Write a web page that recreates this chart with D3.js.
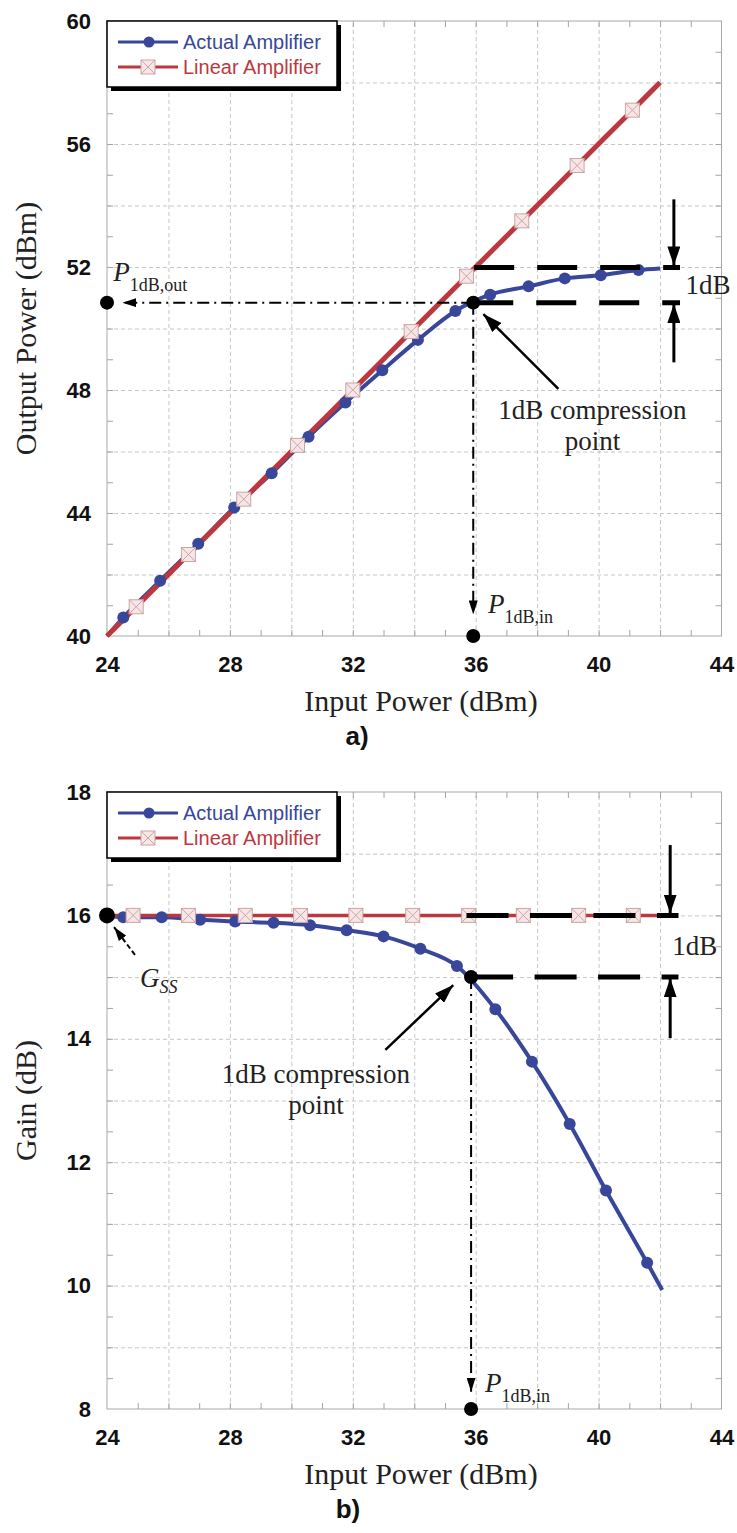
<!DOCTYPE html>
<html>
  <head>
    <meta charset="utf-8">
    <title>1dB compression point</title>
    <script src="https://cdn.jsdelivr.net/npm/d3@7"></script>
    <style>

body {
  margin: 0;
  background: #fff;
}

.tick text {
  font: bold 22px "Liberation Sans", Arial, sans-serif;
  fill: #111;
}

.grid line {
  stroke: #c6c6c6;
  stroke-dasharray: 4,3;
}

.minor line {
  stroke: #a4a4a4;
}

.frame {
  fill: none;
  stroke: #a8a8a8;
}

.title {
  font: 30px "Liberation Serif", "DejaVu Serif", serif;
  fill: #222;
}

.note {
  font: 27px "Liberation Serif", "DejaVu Serif", serif;
  fill: #222;
}

.panel {
  font: bold 26px "Liberation Sans", Arial, sans-serif;
  fill: #111;
}

.legend text {
  font: 20px "Liberation Sans", Arial, sans-serif;
}

    </style>
  </head>
  <body>
    <script>

// axes
var xLabels = [24, 28, 32, 36, 40, 44],
    xGrid = [26, 28, 30, 32, 34, 36, 38, 40, 42],
    yLabelsA = [40, 44, 48, 52, 56, 60],
    yGridA = [42, 44, 46, 48, 50, 52, 54, 56, 58],
    yLabelsB = [8, 10, 12, 14, 16, 18],
    yGridB = [9, 10, 11, 12, 13, 14, 15, 16, 17];

// a) output power vs input power (first and last point have no marker)
var actualInA  = [24, 24.53, 25.73, 26.97, 28.14, 29.36, 30.56, 31.76, 32.96, 34.12, 35.34, 36.47, 37.72, 38.9, 40.07, 41.3, 42.0],
    actualOutA = [40, 40.6, 41.8, 43.0, 44.18, 45.29, 46.48, 47.59, 48.64, 49.63, 50.57, 51.1, 51.37, 51.63, 51.73, 51.9, 51.95],
    linearInA  = [24, 24.95, 26.65, 28.45, 30.2, 32.0, 33.9, 35.7, 37.5, 39.3, 41.1, 42],
    linearOutA = [40, 40.95, 42.65, 44.45, 46.2, 48.0, 49.9, 51.7, 53.5, 55.3, 57.1, 58];

// b) gain vs input power
var actualInB   = [24, 24.53, 25.78, 27.03, 28.17, 29.42, 30.61, 31.8, 33.0, 34.2, 35.39, 36.64, 37.83, 39.06, 40.24, 41.58, 42.07],
    actualGainB = [16.0, 15.97, 15.97, 15.93, 15.9, 15.88, 15.84, 15.76, 15.66, 15.46, 15.18, 14.48, 13.63, 12.62, 11.54, 10.37, 9.93],
    linearInB   = [24, 24.85, 26.65, 28.5, 30.3, 32.1, 33.95, 35.77, 37.55, 39.35, 41.13, 42],
    linearGainB = [16, 16, 16, 16, 16, 16, 16, 16, 16, 16, 16, 16];

var BLUE = "#38479a",
    RED = "#bc383e";

var svg = d3.select("body").append("svg")
    .attr("width", 737)
    .attr("height", 1533);

var defs = svg.append("defs");

function arrowHead(id, len, wid) {
  defs.append("marker")
      .attr("id", id)
      .attr("viewBox", "0 -5 10 10")
      .attr("refX", 10)
      .attr("refY", 0)
      .attr("markerUnits", "userSpaceOnUse")
      .attr("markerWidth", len)
      .attr("markerHeight", wid)
      .attr("preserveAspectRatio", "none")
      .attr("orient", "auto")
    .append("path")
      .attr("d", "M0,-5L10,0L0,5Z")
      .attr("fill", "#000");
}
arrowHead("big", 19, 13);
arrowHead("small", 14, 9);

function noDomain(s) { s.select(".domain").remove(); }

function drawPanel(p) {
  var x = d3.scaleLinear().domain([24, 44]).range([107, 721.5]),
      y = d3.scaleLinear().domain(p.yDomain).range([p.bottom, p.top]),
      w = x.range()[1] - x.range()[0],
      h = p.bottom - p.top,
      g = svg.append("g");

  g.append("g")
      .attr("class", "grid")
      .attr("transform", "translate(0," + p.bottom + ")")
      .call(d3.axisBottom(x).tickValues(xGrid).tickSize(-h).tickFormat(""))
      .call(noDomain);

  g.append("g")
      .attr("class", "grid")
      .attr("transform", "translate(" + x(24) + ",0)")
      .call(d3.axisLeft(y).tickValues(p.yGrid).tickSize(-w).tickFormat(""))
      .call(noDomain);

  // small inward ticks on all four sides
  var xMinor = d3.range(25, 44, 1);
  g.append("g").attr("class", "minor")
      .attr("transform", "translate(0," + p.bottom + ")")
      .call(d3.axisBottom(x).tickValues(xMinor).tickSize(-6).tickFormat(""))
      .call(noDomain);
  g.append("g").attr("class", "minor")
      .attr("transform", "translate(0," + p.top + ")")
      .call(d3.axisTop(x).tickValues(xMinor).tickSize(-6).tickFormat(""))
      .call(noDomain);
  g.append("g").attr("class", "minor")
      .attr("transform", "translate(" + x(24) + ",0)")
      .call(d3.axisLeft(y).tickValues(p.yMinor).tickSize(-6).tickFormat(""))
      .call(noDomain);
  g.append("g").attr("class", "minor")
      .attr("transform", "translate(" + x(44) + ",0)")
      .call(d3.axisRight(y).tickValues(p.yMinor).tickSize(-6).tickFormat(""))
      .call(noDomain);

  g.append("rect")
      .attr("class", "frame")
      .attr("x", x(24))
      .attr("y", p.top)
      .attr("width", w)
      .attr("height", h);

  g.append("g")
      .attr("transform", "translate(0," + p.bottom + ")")
      .call(d3.axisBottom(x).tickValues(xLabels).tickSize(0).tickPadding(20))
      .call(noDomain);

  g.append("g")
      .attr("transform", "translate(" + x(24) + ",0)")
      .call(d3.axisLeft(y).tickValues(p.yLabels).tickSize(0).tickPadding(16))
      .call(noDomain);

  // series
  var line = d3.line()
      .x(function(d) { return x(d[0]); })
      .y(function(d) { return y(d[1]); })
      .curve(d3.curveMonotoneX);

  var actual = d3.zip(p.actualIn, p.actualOut),
      linear = d3.zip(p.linearIn, p.linearOut);

  g.append("path")
      .datum(actual)
      .attr("d", line)
      .attr("fill", "none")
      .attr("stroke", BLUE)
      .attr("stroke-width", 4);

  g.append("path")
      .datum(linear)
      .attr("d", line)
      .attr("fill", "none")
      .attr("stroke", RED)
      .attr("stroke-width", p.redWidth);

  g.selectAll("circle.actual")
      .data(actual.slice(1, -1))
    .enter().append("circle")
      .attr("class", "actual")
      .attr("cx", function(d) { return x(d[0]); })
      .attr("cy", function(d) { return y(d[1]); })
      .attr("r", 6)
      .attr("fill", BLUE);

  linearMarks(g.selectAll("g.linear")
      .data(linear.slice(1, -1))
    .enter().append("g")
      .attr("class", "linear")
      .attr("transform", function(d) { return "translate(" + x(d[0]) + "," + y(d[1]) + ")"; }));

  g.append("text")
      .attr("class", "title")
      .attr("x", 421)
      .attr("y", p.bottom + 75)
      .attr("text-anchor", "middle")
      .text("Input Power (dBm)");

  g.append("text")
      .attr("class", "title")
      .attr("transform", "translate(36," + (p.top + p.bottom) / 2 + ")rotate(-90)")
      .attr("text-anchor", "middle")
      .text(p.yTitle);

  g.append("text")
      .attr("class", "panel")
      .attr("x", p.panelX)
      .attr("y", p.bottom + 109)
      .attr("text-anchor", "middle")
      .text(p.panel);

  legend(p.top);

  return {g: g, x: x, y: y};
}

function linearMarks(sel) {
  sel.append("rect")
      .attr("x", -7)
      .attr("y", -7)
      .attr("width", 14)
      .attr("height", 14)
      .attr("fill", "#f8e6e6")
      .attr("stroke", "#c9a6a6");
  sel.append("path")
      .attr("d", "M-7,-7L7,7M7,-7L-7,7")
      .attr("stroke", "#c9a6a6");
}

function legend(top) {
  var lg = svg.append("g")
      .attr("class", "legend")
      .attr("transform", "translate(107," + top + ")");
  lg.append("rect")
      .attr("x", 4).attr("y", 4)
      .attr("width", 230).attr("height", 66)
      .attr("fill", "#000");
  lg.append("rect")
      .attr("width", 230).attr("height", 66)
      .attr("fill", "#fff")
      .attr("stroke", "#000")
      .attr("stroke-width", 1.5);

  var rows = [{name: "Actual Amplifier", color: BLUE, dy: 21},
              {name: "Linear Amplifier", color: RED, dy: 46}];
  var row = lg.selectAll("g.row")
      .data(rows)
    .enter().append("g")
      .attr("transform", function(d) { return "translate(0," + d.dy + ")"; });
  row.append("line")
      .attr("x1", 11).attr("x2", 71)
      .attr("stroke", function(d) { return d.color; })
      .attr("stroke-width", 3);
  row.append("text")
      .attr("x", 76)
      .attr("dy", "0.36em")
      .attr("fill", function(d) { return d.color; })
      .text(function(d) { return d.name; });
  row.filter(function(d, i) { return i == 0; }).append("circle")
      .attr("cx", 42).attr("r", 5.5).attr("fill", BLUE);
  linearMarks(row.filter(function(d, i) { return i == 1; }).append("g")
      .attr("transform", "translate(41,0)"));
}

// annotation helpers, points are in data units of the panel
function path(P, pts) {
  return P.g.append("path")
      .attr("d", d3.line().x(function(d) { return P.x(d[0]); }).y(function(d) { return P.y(d[1]); })(pts))
      .attr("fill", "none")
      .attr("stroke", "#000");
}

function dot(P, pt, r) {
  P.g.append("circle")
      .attr("cx", P.x(pt[0]))
      .attr("cy", P.y(pt[1]))
      .attr("r", r)
      .attr("fill", "#000");
}

function label(P, pt, main, sub, subItalic) {
  var t = P.g.append("text")
      .attr("class", "note")
      .attr("x", P.x(pt[0]))
      .attr("y", P.y(pt[1]))
      .style("font-style", "italic")
      .text(main);
  t.append("tspan")
      .attr("dy", subItalic ? 6 : 10)
      .style("font-style", subItalic ? "italic" : "normal")
      .style("font-size", "18px")
      .text(sub);
}

function note(P, pt, lines) {
  P.g.append("text")
      .attr("class", "note")
      .attr("text-anchor", "middle")
      .selectAll("tspan")
      .data(lines)
    .enter().append("tspan")
      .attr("x", P.x(pt[0]))
      .attr("y", function(d, i) { return P.y(pt[1]) + i * 31; })
      .text(function(d) { return d; });
}

// ---- a) output power
var A = drawPanel({
  yDomain: [40, 60], top: 21, bottom: 636,
  yLabels: yLabelsA, yGrid: yGridA, yMinor: d3.range(41, 60, 1),
  actualIn: actualInA, actualOut: actualOutA,
  linearIn: linearInA, linearOut: linearOutA,
  redWidth: 5, yTitle: "Output Power (dBm)", panel: "a)", panelX: 357
});

var compA = [35.92, 50.84];
path(A, [[35.95, 51.98], [42.65, 51.98]]).attr("stroke-width", 5).attr("stroke-dasharray", "40,23");
path(A, [compA, [42.65, 50.84]]).attr("stroke-width", 5).attr("stroke-dasharray", "40,23");
path(A, [compA, [24.5, 50.84]]).attr("stroke-width", 2).attr("stroke-dasharray", "12,5,2,5").attr("marker-end", "url(#small)");
path(A, [compA, [35.92, 40.7]]).attr("stroke-width", 2).attr("stroke-dasharray", "12,5,2,5").attr("marker-end", "url(#small)");
path(A, [[42.45, 54.2], [42.45, 52.05]]).attr("stroke-width", 3).attr("marker-end", "url(#big)");
path(A, [[42.45, 48.9], [42.45, 50.8]]).attr("stroke-width", 3).attr("marker-end", "url(#big)");
path(A, [[38.69, 48.04], [36.25, 50.47]]).attr("stroke-width", 2.5).attr("marker-end", "url(#big)");
dot(A, compA, 7);
dot(A, [24, 50.84], 7);
dot(A, [35.92, 40], 7);
label(A, [24.2, 51.54], "P", "1dB,out", false);
label(A, [36.4, 40.75], "P", "1dB,in", false);
note(A, [39.8, 47.07], ["1dB compression", "point"]);
A.g.append("text").attr("class", "note")
    .attr("x", A.x(42.83)).attr("y", A.y(51.12)).text("1dB");

// ---- b) gain
var B = drawPanel({
  yDomain: [8, 18], top: 792, bottom: 1409,
  yLabels: yLabelsB, yGrid: yGridB, yMinor: d3.range(8.5, 18, 0.5),
  actualIn: actualInB, actualOut: actualGainB,
  linearIn: linearInB, linearOut: linearGainB,
  redWidth: 3.5, yTitle: "Gain (dB)", panel: "b)", panelX: 348
});

var compB = [35.85, 15.0];
path(B, [[35.7, 16], [42.6, 16]]).attr("stroke-width", 5).attr("stroke-dasharray", "42,21.5");
path(B, [compB, [42.6, 15]]).attr("stroke-width", 5).attr("stroke-dasharray", "42,21.5");
path(B, [compB, [35.85, 8.28]]).attr("stroke-width", 2).attr("stroke-dasharray", "12,5,2,5").attr("marker-end", "url(#small)");
path(B, [[42.33, 17.14], [42.33, 16.03]]).attr("stroke-width", 3).attr("marker-end", "url(#big)");
path(B, [[42.33, 14.01], [42.33, 14.98]]).attr("stroke-width", 3).attr("marker-end", "url(#big)");
path(B, [[33.06, 13.82], [35.27, 14.87]]).attr("stroke-width", 2.5).attr("marker-end", "url(#big)");
path(B, [[24.91, 15.36], [24.23, 15.81]]).attr("stroke-width", 2).attr("stroke-dasharray", "5,3").attr("marker-end", "url(#small)");
dot(B, compB, 7);
dot(B, [24, 16], 8);
dot(B, [35.85, 8], 7);
label(B, [36.3, 8.28], "P", "1dB,in", false);
label(B, [25.07, 14.84], "G", "SS", true);
note(B, [30.8, 13.28], ["1dB compression", "point"]);
B.g.append("text").attr("class", "note")
    .attr("x", B.x(42.4)).attr("y", B.y(15.36)).text("1dB");

    </script>
  </body>
</html>
